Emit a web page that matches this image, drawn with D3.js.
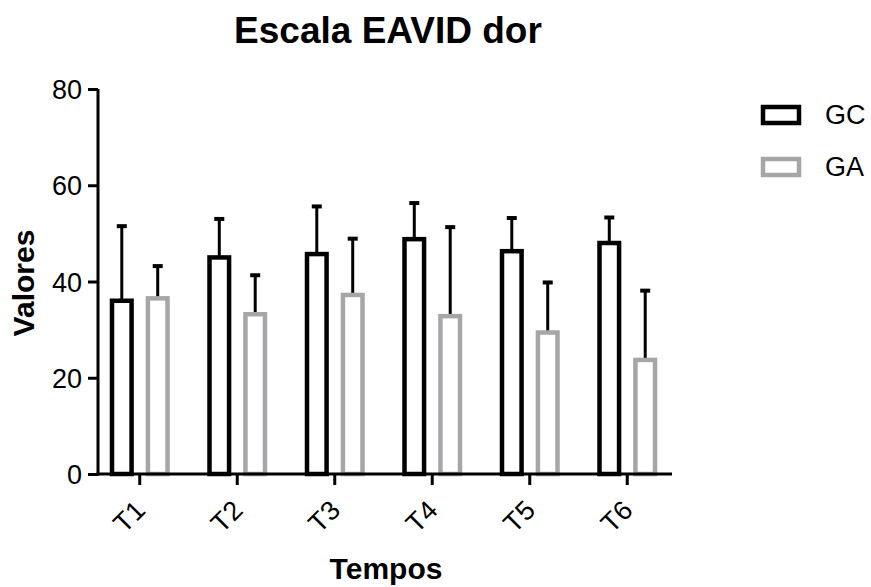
<!DOCTYPE html>
<html>
<head>
<meta charset="utf-8">
<script src="https://cdn.jsdelivr.net/npm/d3@7"></script>
<style>
  body { margin: 0; background: #fff; }
  text { font-family: "Liberation Sans", Arial, sans-serif; }
</style>
</head>
<body>
<svg id="chart" width="871" height="587"></svg>
<script>
// Mean scores per time point, with SD shown as the upper error bar
const categories = ["T1", "T2", "T3", "T4", "T5", "T6"];
const seriesNames = ["GC", "GA"];
const gcMeans = [36.0, 45.0, 45.7, 48.8, 46.3, 48.0];
const gcSD    = [15.5, 8.0, 9.9, 7.5, 6.9, 5.3];
const gaMeans = [36.5, 33.2, 37.2, 32.8, 29.4, 23.7];
const gaSD    = [6.7, 8.1, 11.7, 18.5, 10.4, 14.4];
const yTicks = [0, 20, 40, 60, 80];
const colors = { GC: "#000000", GA: "#a6a6a8" };

const series = [
  { name: "GC", means: gcMeans, sd: gcSD },
  { name: "GA", means: gaMeans, sd: gaSD }
];

const svg = d3.select("#chart");
const plotLeft = 98, plotTop = 89, plotBottom = 474;
const font = "Liberation Sans, Arial, sans-serif";

const x = d3.scaleBand().domain(categories).range([91, 676]).paddingInner(0).paddingOuter(0);
const bwGroup = x.bandwidth();
const xs = d3.scaleBand().domain(seriesNames)
  .range([bwGroup / 2 - 30, bwGroup / 2 + 30]).paddingInner(0.33).paddingOuter(0);
const y = d3.scaleLinear().domain([0, 80]).range([plotBottom, plotTop]);

// Title
svg.append("text")
  .attr("x", 388).attr("y", 43)
  .attr("text-anchor", "middle")
  .attr("font-size", 37).attr("font-weight", "bold")
  .text("Escala EAVID dor");

// Bars and error bars
const groups = svg.append("g").selectAll("g")
  .data(categories)
  .join("g")
  .attr("transform", d => `translate(${x(d)},0)`);

series.forEach(s => {
  const bw = xs.bandwidth();
  const sw = 4.5;
  const cx = xs(s.name) + bw / 2;
  groups.append("line")
    .attr("x1", cx).attr("x2", cx)
    .attr("y1", (d, i) => y(s.means[i]))
    .attr("y2", (d, i) => y(s.means[i] + s.sd[i]))
    .attr("stroke", "#000").attr("stroke-width", 3);
  groups.append("line")
    .attr("x1", cx - 5).attr("x2", cx + 5)
    .attr("y1", (d, i) => y(s.means[i] + s.sd[i]))
    .attr("y2", (d, i) => y(s.means[i] + s.sd[i]))
    .attr("stroke", "#000").attr("stroke-width", 4);
  groups.append("rect")
    .attr("x", xs(s.name) + sw / 2)
    .attr("width", bw - sw)
    .attr("y", (d, i) => y(s.means[i]))
    .attr("height", (d, i) => plotBottom - y(s.means[i]))
    .attr("fill", "#fff")
    .attr("stroke", colors[s.name])
    .attr("stroke-width", sw);
});

// Y axis
const yAxis = svg.append("g")
  .attr("transform", `translate(${plotLeft},0)`)
  .call(d3.axisLeft(y).tickValues(yTicks).tickSize(10).tickPadding(6).tickFormat(d3.format("d")));
yAxis.select(".domain").attr("stroke-width", 3).attr("d", `M0,${plotTop}V${plotBottom + 1.5}`);
yAxis.selectAll(".tick line").attr("stroke-width", 3);
yAxis.selectAll(".tick text").attr("font-size", 27).attr("fill", "#000")
  .attr("font-family", font).attr("dy", "0.36em");

// X axis
const xAxis = svg.append("g")
  .attr("transform", `translate(0,${plotBottom})`)
  .call(d3.axisBottom(x).tickSize(11).tickPadding(10));
xAxis.select(".domain").attr("stroke-width", 3).attr("d", `M${plotLeft - 1.5},0H672`);
xAxis.selectAll(".tick line").attr("stroke-width", 3);
xAxis.selectAll(".tick text")
  .attr("font-size", 27).attr("fill", "#000")
  .attr("font-family", font)
  .attr("text-anchor", "end")
  .attr("dy", 0)
  .attr("transform", "translate(7,38) rotate(-45)")
  .attr("x", 0).attr("y", 0);

// Axis titles
svg.append("text")
  .attr("transform", "translate(34,283) rotate(-90)")
  .attr("text-anchor", "middle")
  .attr("font-size", 30).attr("font-weight", "bold")
  .text("Valores");
svg.append("text")
  .attr("x", 386).attr("y", 579)
  .attr("text-anchor", "middle")
  .attr("font-size", 30).attr("font-weight", "bold")
  .text("Tempos");

// Legend
const legend = svg.append("g").selectAll("g")
  .data(seriesNames)
  .join("g")
  .attr("transform", (d, i) => `translate(763,${107 + i * 52})`);
legend.append("rect")
  .attr("width", 36).attr("height", 16)
  .attr("fill", "#fff")
  .attr("stroke", d => colors[d]).attr("stroke-width", 4.5);
legend.append("text")
  .attr("x", 62).attr("y", 17)
  .attr("font-size", 27)
  .text(d => d);
</script>
</body>
</html>
